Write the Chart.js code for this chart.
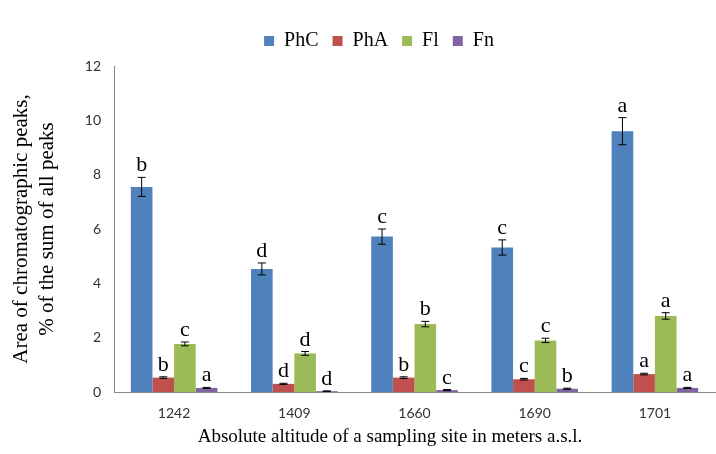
<!DOCTYPE html>
<html>
<head>
<meta charset="utf-8">
<script src="https://cdn.jsdelivr.net/npm/chart.js@4"></script>
<style>
  html, body { margin: 0; padding: 0; background: #fff; }
  #wrap { width: 716px; height: 454px; }
</style>
</head>
<body>
<div id="wrap"><canvas id="chart" width="716" height="454"></canvas></div>
<script>
'use strict';

const SITES = ['1242', '1409', '1660', '1690', '1701'];
const SERIES = ['PhC', 'PhA', 'Fl', 'Fn'];
const COLORS = ['#4f81bd', '#c0504d', '#9bbb59', '#8064a2'];

const PHC = [7.55, 4.53, 5.72, 5.32, 9.6];
const PHA = [0.53, 0.30, 0.53, 0.47, 0.66];
const FL  = [1.77, 1.42, 2.50, 1.90, 2.80];
const FN  = [0.15, 0.03, 0.07, 0.12, 0.15];

const PHC_ERR = [0.35, 0.22, 0.28, 0.28, 0.50];
const PHA_ERR = [0.03, 0.02, 0.03, 0.03, 0.03];
const FL_ERR  = [0.07, 0.07, 0.10, 0.08, 0.12];
const FN_ERR  = [0.02, 0.01, 0.02, 0.02, 0.02];

const PHC_TAG = ['b', 'd', 'c', 'c', 'a'];
const PHA_TAG = ['b', 'd', 'b', 'c', 'a'];
const FL_TAG  = ['c', 'd', 'b', 'c', 'a'];
const FN_TAG  = ['a', 'd', 'c', 'b', 'a'];

const Y_TITLE = ['Area of chromatographic peaks,', '% of the sum of all peaks'];
const X_TITLE = 'Absolute altitude of a sampling site in meters a.s.l.';

const VALUES = [PHC, PHA, FL, FN];
const ERRORS = [PHC_ERR, PHA_ERR, FL_ERR, FN_ERR];
const TAGS = [PHC_TAG, PHA_TAG, FL_TAG, FN_TAG];

const SERIF = '"Liberation Serif", "DejaVu Serif", serif';

// error bars + significance letters
const errorBars = {
  id: 'errorBars',
  afterDatasetsDraw(chart) {
    const ctx = chart.ctx;
    const y = chart.scales.y;
    ctx.save();
    chart.data.datasets.forEach((ds, di) => {
      const meta = chart.getDatasetMeta(di);
      meta.data.forEach((bar, i) => {
        const v = ds.data[i], e = ERRORS[di][i];
        const top = y.getPixelForValue(v + e);
        const bot = y.getPixelForValue(Math.max(0, v - e));
        ctx.strokeStyle = '#000';
        ctx.lineWidth = 1;
        ctx.beginPath();
        ctx.moveTo(bar.x, top); ctx.lineTo(bar.x, bot);
        ctx.moveTo(bar.x - 4, top); ctx.lineTo(bar.x + 4, top);
        ctx.moveTo(bar.x - 4, bot); ctx.lineTo(bar.x + 4, bot);
        ctx.stroke();
        ctx.fillStyle = '#000';
        ctx.font = '22px ' + SERIF;
        ctx.textAlign = 'center';
        ctx.textBaseline = 'alphabetic';
        ctx.fillText(TAGS[di][i], bar.x, top - 6);
      });
    });
    ctx.restore();
  }
};

// axis titles, placed like the original (centred on the whole figure)
const axisTitles = {
  id: 'axisTitles',
  afterDraw(chart) {
    const ctx = chart.ctx;
    const a = chart.chartArea;
    ctx.save();
    ctx.fillStyle = '#000';
    ctx.textAlign = 'center';
    ctx.textBaseline = 'middle';
    ctx.font = '19px ' + SERIF;
    ctx.fillText(X_TITLE, 390, 437);
    ctx.font = '21px ' + SERIF;
    const cy = (a.top + a.bottom) / 2;
    [21, 47].forEach((x, i) => {
      ctx.save();
      ctx.translate(x, cy);
      ctx.rotate(-Math.PI / 2);
      ctx.fillText(Y_TITLE[i], 0, 0);
      ctx.restore();
    });
    ctx.restore();
  }
};

new Chart(document.getElementById('chart'), {
  type: 'bar',
  data: {
    labels: SITES,
    datasets: SERIES.map((name, i) => ({
      label: name,
      data: VALUES[i],
      backgroundColor: COLORS[i],
      borderWidth: 0,
      barPercentage: 1,
      categoryPercentage: 0.72,
    })),
  },
  options: {
    responsive: false,
    animation: false,
    layout: { padding: { left: 43, right: 1, top: 17, bottom: 4 } },
    plugins: {
      legend: {
        position: 'top',
        labels: {
          color: '#000',
          font: { family: SERIF, size: 20 },
          boxWidth: 10, boxHeight: 10,
          padding: 14,
        },
      },
      // empty spacer between legend and plot
      subtitle: {
        display: true,
        text: '',
        position: 'top',
        weight: 100,
        font: { size: 1, lineHeight: 1 },
        padding: { top: 4, bottom: 0 },
      },
      tooltip: { enabled: false },
    },
    scales: {
      x: {
        grid: { display: false, drawTicks: false },
        border: { display: true, color: '#868686' },
        ticks: { color: '#333', font: { family: 'Lato', size: 14 }, padding: 13 },
        afterFit(s) { s.height = 58; },
      },
      y: {
        min: 0, max: 12,
        grid: { display: false, drawTicks: false },
        border: { display: true, color: '#868686' },
        ticks: { stepSize: 2, color: '#333', font: { family: 'Lato', size: 14 }, padding: 13 },
        afterFit(s) { s.width = 71; },
      },
    },
  },
  plugins: [errorBars, axisTitles],
});
</script>
</body>
</html>
